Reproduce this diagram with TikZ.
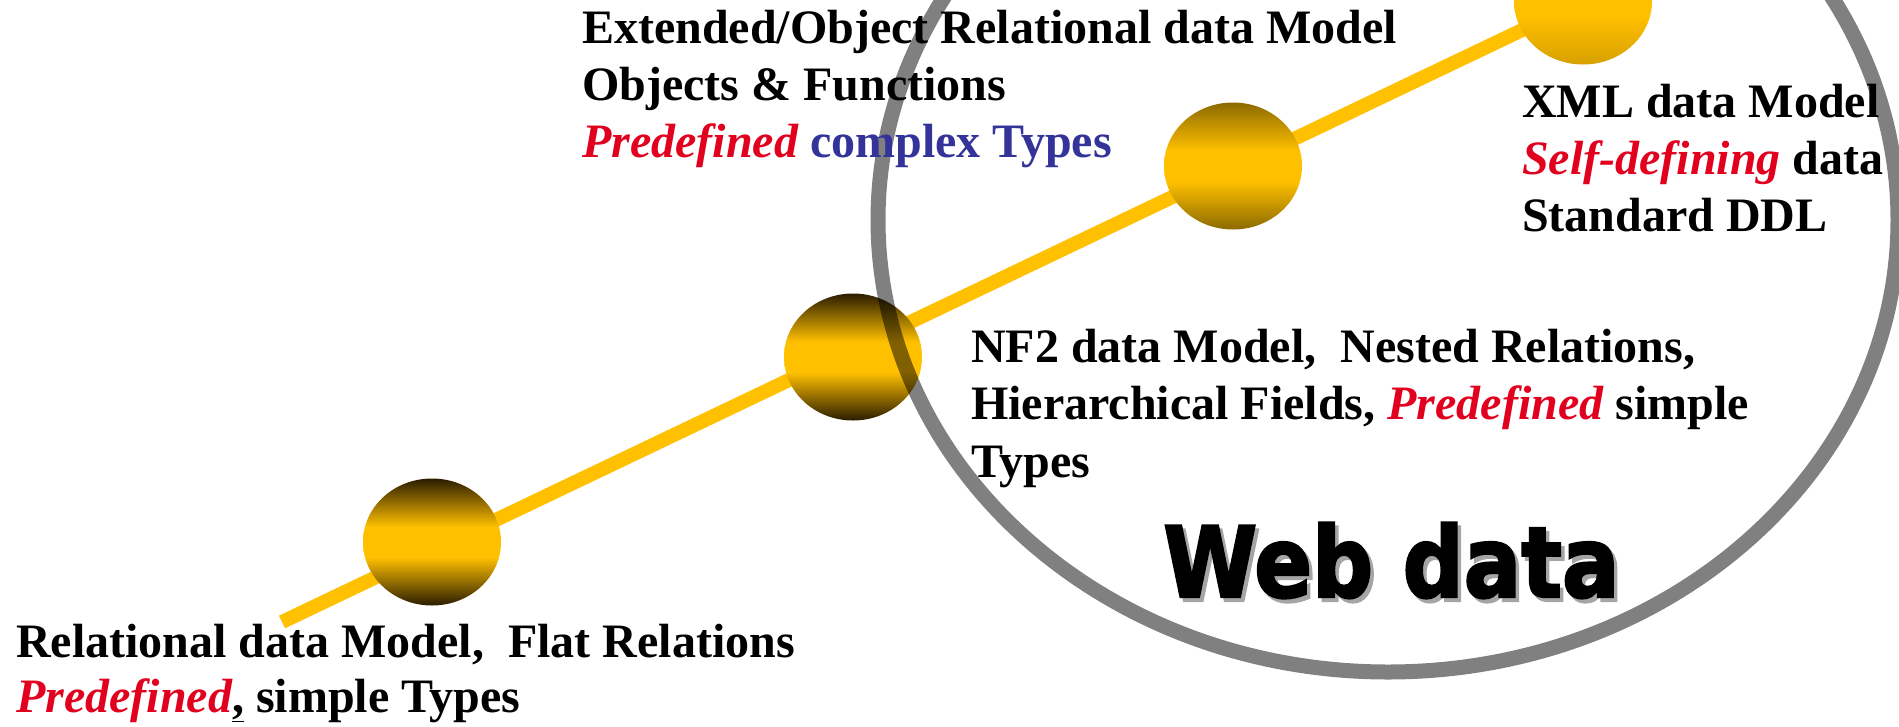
\documentclass[tikz,border=0pt]{standalone}
\usepackage{fontspec}
\usepackage{graphicx}
\setmainfont{Liberation Serif}
\newfontfamily\webfont[FakeBold=2.5]{DejaVu Sans Bold}
\usetikzlibrary{shapes.geometric,backgrounds}
\definecolor{ballgold}{RGB}{255,192,0}
\definecolor{balldark}{RGB}{42,28,0}
\definecolor{ballmid}{RGB}{140,106,0}
\definecolor{balllight}{RGB}{215,160,0}
\definecolor{ringgray}{RGB}{128,128,128}
\definecolor{pred}{RGB}{225,0,30}
\definecolor{cblue}{RGB}{51,51,153}
\definecolor{shadowgray}{RGB}{165,165,165}
\pgfdeclareverticalshading{darkballshade}{100bp}{color(0bp)=(balldark); color(25bp)=(balldark); color(44bp)=(ballgold); color(56bp)=(ballgold); color(75bp)=(balldark); color(100bp)=(balldark)}
\pgfdeclareverticalshading{midballshade}{100bp}{color(0bp)=(ballmid); color(25bp)=(ballmid); color(44bp)=(ballgold); color(56bp)=(ballgold); color(75bp)=(ballmid); color(100bp)=(ballmid)}
\pgfdeclareverticalshading{lightballshade}{100bp}{color(0bp)=(balllight); color(25bp)=(balllight); color(44bp)=(ballgold); color(56bp)=(ballgold); color(75bp)=(balllight); color(100bp)=(balllight)}
\begin{document}
\begin{tikzpicture}[x=1pt,y=-1pt,
  ball/.style={ellipse, minimum width=138pt, minimum height=127pt, inner sep=0pt},
  darkball/.style={ball, shading=darkballshade},
  midball/.style={ball, shading=midballshade},
  lightball/.style={ball, shading=lightballshade},
  track/.style={draw=ballgold, line width=14pt},
  ring/.style={draw=ringgray, line width=15pt},
  lbl/.style={anchor=base west, inner sep=0pt, font=\fontsize{48}{57.5}\selectfont\bfseries},
  web/.style={anchor=base west, inner sep=0pt, font=\webfont\fontsize{98}{98}\selectfont}]
\useasboundingbox (0,0) rectangle (1899,726);
\clip (0,0) rectangle (1899,726);

% balls on the track
\node[darkball] (b1) at (432,542) {};
\node[darkball] (b2) at (853,357) {};
\node[midball] (b3) at (1233,166) {};
\node[lightball] (b4) at (1583,1) {};

% the track behind the balls
\coordinate (tail) at (282,622);
\begin{scope}[on background layer]
  \draw[track] (tail) -- (b4.center);
\end{scope}

% the web data ring
\begin{scope}[blend mode=multiply]
  \draw[ring] (1388,220) ellipse [x radius=510, y radius=452];
\end{scope}

% labels: extended / object relational model
\node[lbl] (oor1) at (582,43) {Extended/Object Relational data Model};
\node[lbl] (oor2) at (582,100) {Objects \& Functions};
\node[lbl] (oor3) at (582,157) {\textcolor{pred}{\itshape Predefined} \textcolor{cblue}{complex Types}};
% XML model
\node[lbl] (xml1) at (1522,117) {XML data Model};
\node[lbl] (xml2) at (1522,174) {\textcolor{pred}{\itshape Self-defining} data};
\node[lbl] (xml3) at (1522,231) {Standard DDL};
% NF2 model
\node[lbl] (nf1) at (971,362) {NF2 data Model,\ \ Nested Relations,};
\node[lbl] (nf2) at (971,419) {Hierarchical Fields, \textcolor{pred}{\itshape Predefined} simple};
\node[lbl] (nf3) at (971,477) {Types};
% relational model
\node[lbl] (rel1) at (16,657) {Relational data Model,\ \ Flat Relations};
\node[lbl] (rel2) at (16,712) {\textcolor{pred}{\itshape Predefined}\underline{,} simple Types};

% Web data title with shadow
\node[web, text=shadowgray] (webshadow) at (1166.5,601) {\scalebox{0.87}[1]{Web data}};
\node[web] (web) at (1163,597) {\scalebox{0.87}[1]{Web data}};
\end{tikzpicture}
\end{document}
